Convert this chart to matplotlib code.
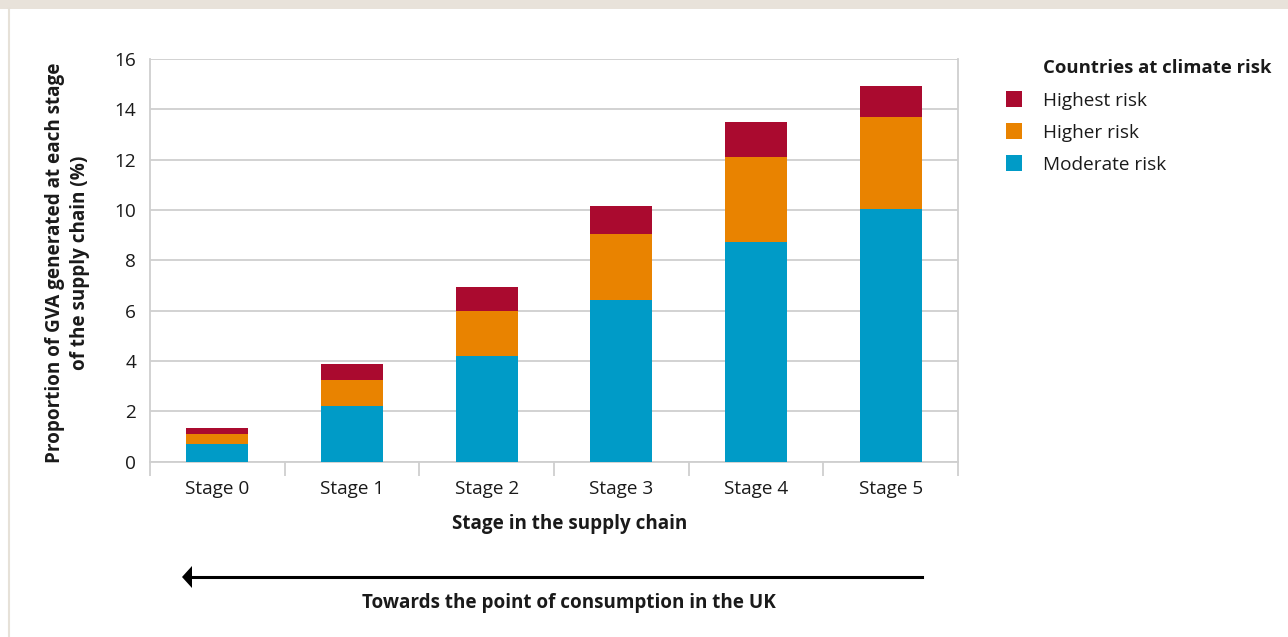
import matplotlib
matplotlib.use("Agg")
import matplotlib.pyplot as plt
from matplotlib.patches import Rectangle
from matplotlib.lines import Line2D
import numpy as np

# GVA share (%) at each stage of the supply chain, by climate-risk group
stages = ["Stage 0", "Stage 1", "Stage 2", "Stage 3", "Stage 4", "Stage 5"]
moderate_risk = [0.70, 2.21, 4.19, 6.44, 8.74, 10.04]
higher_risk = [0.40, 1.04, 1.79, 2.60, 3.37, 3.66]
highest_risk = [0.24, 0.63, 0.96, 1.12, 1.39, 1.23]
y_ticks = [0, 2, 4, 6, 8, 10, 12, 14, 16]

series_names = ["Highest risk", "Higher risk", "Moderate risk"]
colors = {"Moderate risk": "#009bc7", "Higher risk": "#e98300", "Highest risk": "#aa0a2f"}

FONT = "Open Sans"
plt.rcParams["font.family"] = [FONT, "DejaVu Sans"]
TXT = "#1a1a1a"
GRID = "#cfcfcf"
FS = 13.7
FS_B = 13.6

W, H = 1288, 637
fig = plt.figure(figsize=(W / 100, H / 100), dpi=100)
fig.patch.set_facecolor("white")


def fx(px):
    return px / W


def fy(py):
    return 1 - py / H


# page frame: beige band on top and thin rule on the left
fig.add_artist(Rectangle((0, fy(9)), 1, 9 / H, transform=fig.transFigure,
                         facecolor="#e8e2da", edgecolor="none"))
fig.add_artist(Line2D([fx(8.5), fx(8.5)], [0, fy(9)], transform=fig.transFigure,
                      color="#e6e1d8", lw=1.5))

ax_l, ax_r, ax_t, ax_b = 150, 958, 59, 461.7
ax = fig.add_axes([fx(ax_l), fy(ax_b), fx(ax_r - ax_l), (ax_b - ax_t) / H])

x = np.arange(len(stages))
bw = 0.46
ax.bar(x, moderate_risk, bw, color=colors["Moderate risk"], zorder=3)
ax.bar(x, higher_risk, bw, bottom=moderate_risk, color=colors["Higher risk"], zorder=3)
bottom2 = [a + b for a, b in zip(moderate_risk, higher_risk)]
ax.bar(x, highest_risk, bw, bottom=bottom2, color=colors["Highest risk"], zorder=3)

ax.set_xlim(-0.5, len(stages) - 0.5)
ax.set_ylim(0, 16)
ax.set_yticks(y_ticks)
ax.set_yticklabels([str(v) for v in y_ticks], fontsize=FS, color=TXT)
ax.tick_params(axis="y", length=0, pad=10)
ax.yaxis.grid(True, color=GRID, lw=1.3, zorder=0)

# category boundaries carry the tick marks, labels sit at the centres
ax.set_xticks(np.arange(-0.5, len(stages), 1.0))
ax.set_xticklabels([])
ax.set_xticks(x, minor=True)
ax.set_xticklabels(stages, minor=True, fontsize=FS, color=TXT)
ax.tick_params(axis="x", which="major", length=10, width=1.3, color=GRID, direction="out")
ax.tick_params(axis="x", which="minor", length=0, pad=13)

for side in ["left", "right", "bottom"]:
    ax.spines[side].set_color(GRID)
    ax.spines[side].set_linewidth(1.3)
ax.spines["top"].set_visible(False)

# axis titles
fig.text(fx(55), fy(263), "Proportion of GVA generated at each stage", rotation=90,
         ha="center", va="center", fontsize=FS_B, fontweight="bold", color=TXT)
fig.text(fx(80), fy(263), "of the supply chain (%)", rotation=90,
         ha="center", va="center", fontsize=FS_B, fontweight="bold", color=TXT)
fig.text(fx(570), fy(524), "Stage in the supply chain", ha="center", va="center",
         fontsize=FS_B, fontweight="bold", color=TXT)

# direction arrow
fig.add_artist(Line2D([fx(186), fx(922)], [fy(577), fy(577)], transform=fig.transFigure,
                      color="black", lw=2.2))
fig.patches.append(plt.Polygon([[fx(182), fy(577)], [fx(192), fy(566)], [fx(192), fy(588)]],
                               closed=True, transform=fig.transFigure,
                               facecolor="black", edgecolor="none"))
fig.text(fx(569), fy(603), "Towards the point of consumption in the UK", ha="center",
         va="center", fontsize=FS_B, fontweight="bold", color=TXT)

# legend
fig.text(fx(1043), fy(68), "Countries at climate risk", ha="left", va="center",
         fontsize=13.3, fontweight="bold", color=TXT)
for i, name in enumerate(series_names):
    yc = 99 + 32 * i
    fig.add_artist(Rectangle((fx(1006), fy(yc + 8)), 16 / W, 16 / H, transform=fig.transFigure,
                             facecolor=colors[name], edgecolor="none"))
    fig.text(fx(1043), fy(yc + 1.5), name, ha="left", va="center", fontsize=FS, color=TXT)

fig.savefig("out.png", dpi=100, facecolor="white")
